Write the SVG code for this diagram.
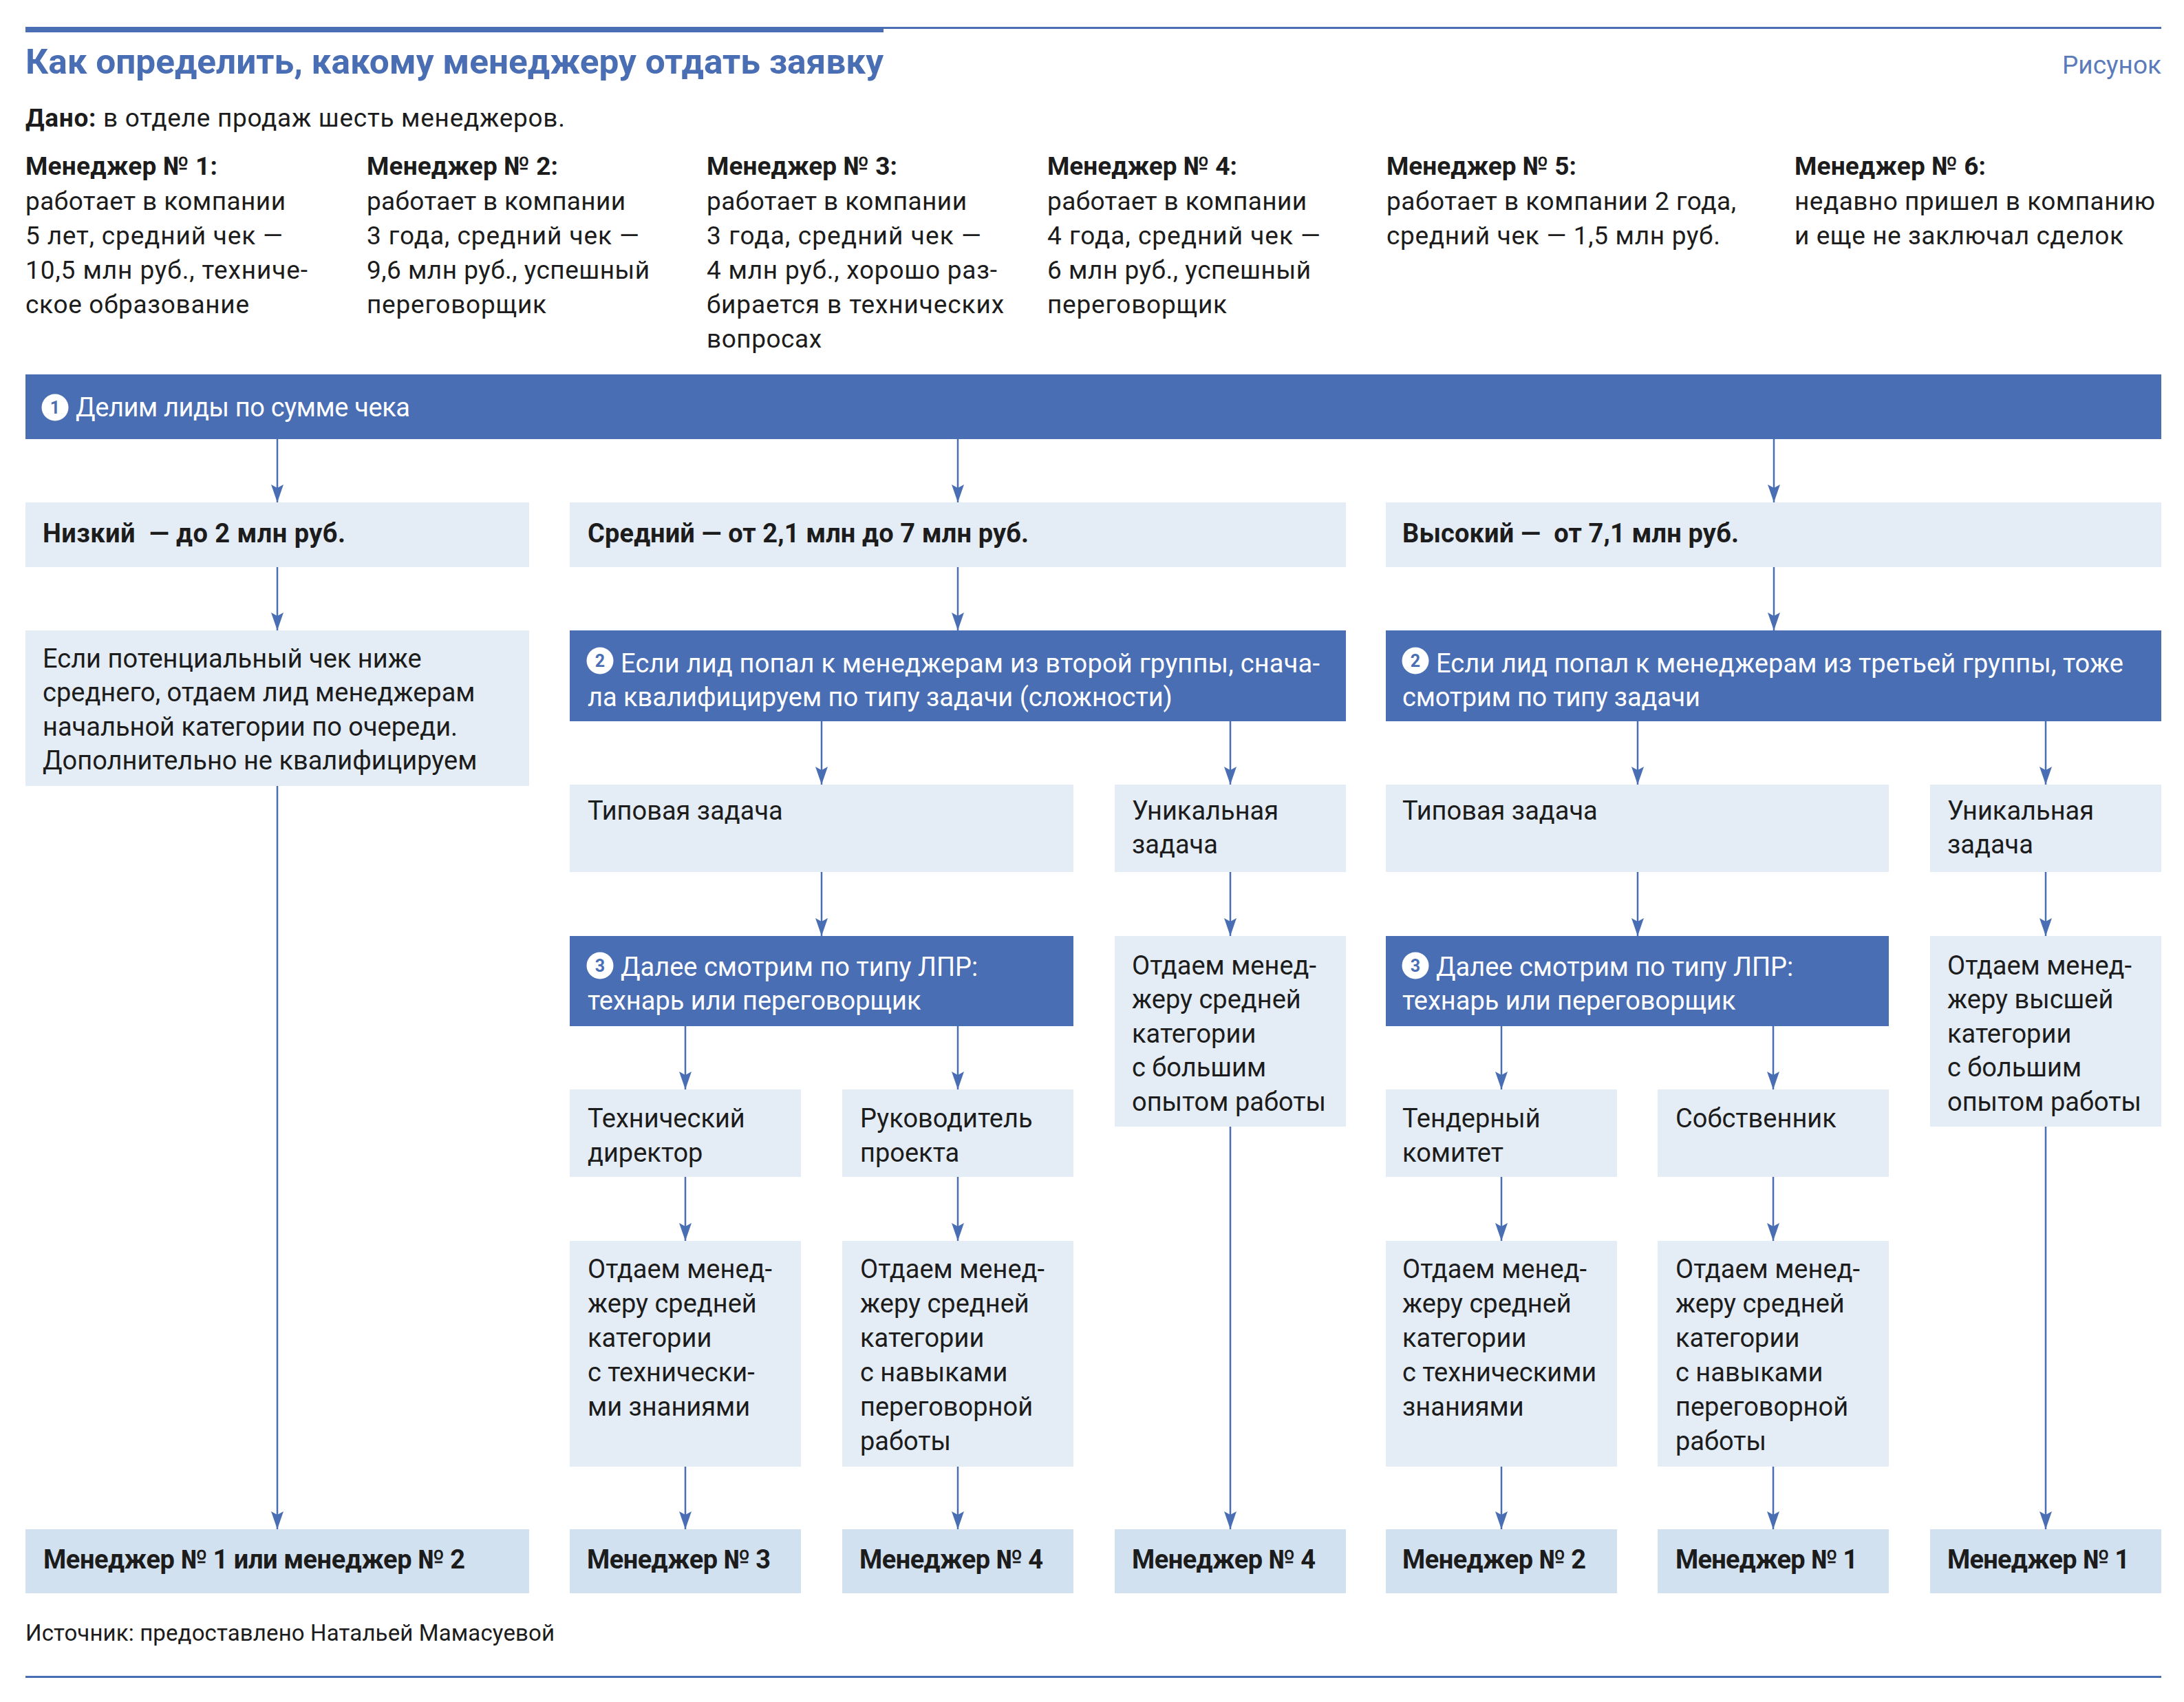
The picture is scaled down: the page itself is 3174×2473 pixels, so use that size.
<svg xmlns="http://www.w3.org/2000/svg" width="3174" height="2473" viewBox="0 0 3174 2473">
<style>
.t{font-family:Roboto,"Liberation Sans",sans-serif;font-size:38px;fill:#1c1c1c}
.h{font-size:37px}
.b{font-weight:700}
.w{fill:#ffffff}
.box{fill:#e4edf6}
.dark{fill:#4a6eb3}
.fin{fill:#d2e1f0}
.num{font-family:Roboto,"Liberation Sans",sans-serif;font-size:25px;font-weight:700;fill:#4a6eb3;text-anchor:middle}
.ln{stroke:#4a6eb3;stroke-width:2.5;fill:none;marker-end:url(#ah)}
</style>
<defs>
<marker id="ah" markerUnits="userSpaceOnUse" viewBox="-27 -10 28 20" refX="0" refY="0" markerWidth="28" markerHeight="20" orient="auto">
<path d="M0,0 L-26,-9 L-21,0 L-26,9 Z" fill="#4a6eb3"/>
</marker>
</defs>
<rect width="3174" height="2473" fill="#ffffff"/>

<g id="header">
<rect x="37" y="39" width="1247" height="8" fill="#4a6eb3"/>
<rect x="1284" y="39" width="1857" height="3" fill="#4a6eb3"/>
<text class="t b" x="37" y="107" style="font-size:50px;fill:#4a6eb3" textLength="1247" lengthAdjust="spacingAndGlyphs">Как определить, какому менеджеру отдать заявку</text>
<text class="t" x="3141" y="107" text-anchor="end" style="font-size:37px;fill:#5b7bbb">Рисунок</text>
<text class="t h" x="37" y="184" textLength="784"><tspan class="b">Дано:</tspan> в отделе продаж шесть менеджеров.</text>
</g>

<g id="manager1">
<text class="t h b" x="37" y="254" textLength="279">Менеджер № 1:</text>
<text class="t h" x="37" y="305" textLength="378">работает в компании</text>
<text class="t h" x="37" y="355" textLength="374">5 лет, средний чек —</text>
<text class="t h" x="37" y="405" textLength="410">10,5 млн руб., техниче-</text>
<text class="t h" x="37" y="455" textLength="325">ское образование</text>
</g>
<g id="manager2">
<text class="t h b" x="533" y="254" textLength="278">Менеджер № 2:</text>
<text class="t h" x="533" y="305" textLength="376">работает в компании</text>
<text class="t h" x="533" y="355" textLength="396">3 года, средний чек —</text>
<text class="t h" x="533" y="405" textLength="411">9,6 млн руб., успешный</text>
<text class="t h" x="533" y="455" textLength="261">переговорщик</text>
</g>
<g id="manager3">
<text class="t h b" x="1027" y="254" textLength="277">Менеджер № 3:</text>
<text class="t h" x="1027" y="305" textLength="378">работает в компании</text>
<text class="t h" x="1027" y="355" textLength="399">3 года, средний чек —</text>
<text class="t h" x="1027" y="405" textLength="422">4 млн руб., хорошо раз-</text>
<text class="t h" x="1027" y="455" textLength="432">бирается в технических</text>
<text class="t h" x="1027" y="505" textLength="167">вопросах</text>
</g>
<g id="manager4">
<text class="t h b" x="1522" y="254" textLength="276">Менеджер № 4:</text>
<text class="t h" x="1522" y="305" textLength="377">работает в компании</text>
<text class="t h" x="1522" y="355" textLength="397">4 года, средний чек —</text>
<text class="t h" x="1522" y="405" textLength="383">6 млн руб., успешный</text>
<text class="t h" x="1522" y="455" textLength="261">переговорщик</text>
</g>
<g id="manager5">
<text class="t h b" x="2015" y="254" textLength="276">Менеджер № 5:</text>
<text class="t h" x="2015" y="305" textLength="508">работает в компании 2 года,</text>
<text class="t h" x="2015" y="355" textLength="485">средний чек — 1,5 млн руб.</text>
</g>
<g id="manager6">
<text class="t h b" x="2608" y="254" textLength="278">Менеджер № 6:</text>
<text class="t h" x="2608" y="305" textLength="524">недавно пришел в компанию</text>
<text class="t h" x="2608" y="355" textLength="478">и еще не заключал сделок</text>
</g>

<g id="connectors">
<line class="ln" x1="403" y1="638" x2="403" y2="730"/>
<line class="ln" x1="1392" y1="638" x2="1392" y2="730"/>
<line class="ln" x1="2578" y1="638" x2="2578" y2="730"/>
<line class="ln" x1="403" y1="824" x2="403" y2="916"/>
<line class="ln" x1="403" y1="1142" x2="403" y2="2222"/>
<line class="ln" x1="1392" y1="824" x2="1392" y2="916"/>
<line class="ln" x1="2578" y1="824" x2="2578" y2="916"/>
<line class="ln" x1="1194" y1="1048" x2="1194" y2="1140"/>
<line class="ln" x1="1788" y1="1048" x2="1788" y2="1140"/>
<line class="ln" x1="2380" y1="1048" x2="2380" y2="1140"/>
<line class="ln" x1="2973" y1="1048" x2="2973" y2="1140"/>
<line class="ln" x1="1194" y1="1267" x2="1194" y2="1360"/>
<line class="ln" x1="2380" y1="1267" x2="2380" y2="1360"/>
<line class="ln" x1="1788" y1="1267" x2="1788" y2="1360"/>
<line class="ln" x1="2973" y1="1267" x2="2973" y2="1360"/>
<line class="ln" x1="996" y1="1491" x2="996" y2="1583"/>
<line class="ln" x1="1392" y1="1491" x2="1392" y2="1583"/>
<line class="ln" x1="2182" y1="1491" x2="2182" y2="1583"/>
<line class="ln" x1="2577" y1="1491" x2="2577" y2="1583"/>
<line class="ln" x1="996" y1="1710" x2="996" y2="1803"/>
<line class="ln" x1="1392" y1="1710" x2="1392" y2="1803"/>
<line class="ln" x1="2182" y1="1710" x2="2182" y2="1803"/>
<line class="ln" x1="2577" y1="1710" x2="2577" y2="1803"/>
<line class="ln" x1="996" y1="2131" x2="996" y2="2222"/>
<line class="ln" x1="1392" y1="2131" x2="1392" y2="2222"/>
<line class="ln" x1="2182" y1="2131" x2="2182" y2="2222"/>
<line class="ln" x1="2577" y1="2131" x2="2577" y2="2222"/>
<line class="ln" x1="1788" y1="1637" x2="1788" y2="2222"/>
<line class="ln" x1="2973" y1="1637" x2="2973" y2="2222"/>
</g>

<g id="step1">
<rect class="dark" x="37" y="544" width="3104" height="94"/>
<circle cx="80" cy="592" r="19.5" fill="#ffffff"/>
<text class="num" x="80" y="601">1</text>
<text class="t w" x="110" y="605" textLength="486">Делим лиды по сумме чека</text>
</g>

<g id="low">
<rect class="box" x="37" y="730" width="732" height="94"/>
<text class="t b" x="62" y="788" textLength="440">Низкий &#160;— до 2 млн руб.</text>
</g>
<g id="mid">
<rect class="box" x="828" y="730" width="1128" height="94"/>
<text class="t b" x="854" y="788" textLength="641">Средний — от 2,1 млн до 7 млн руб.</text>
</g>
<g id="high">
<rect class="box" x="2014" y="730" width="1127" height="94"/>
<text class="t b" x="2038" y="788" textLength="489">Высокий — &#160;от 7,1 млн руб.</text>
</g>

<g id="low-rule">
<rect class="box" x="37" y="916" width="732" height="226"/>
<text class="t" x="62" y="970">Если потенциальный чек ниже</text>
<text class="t" x="62" y="1019">среднего, отдаем лид менеджерам</text>
<text class="t" x="62" y="1069">начальной категории по очереди.</text>
<text class="t" x="62" y="1118">Дополнительно не квалифицируем</text>
</g>

<g id="mid-step2">
<rect class="dark" x="828" y="916" width="1128" height="132"/>
<circle cx="872" cy="960" r="19.5" fill="#ffffff"/>
<text class="num" x="872" y="969">2</text>
<text class="t w" x="902" y="977" textLength="1016">Если лид попал к менеджерам из второй группы, снача-</text>
<text class="t w" x="854" y="1026">ла квалифицируем по типу задачи (сложности)</text>
</g>
<g id="high-step2">
<rect class="dark" x="2014" y="916" width="1127" height="132"/>
<circle cx="2057" cy="960" r="19.5" fill="#ffffff"/>
<text class="num" x="2057" y="969">2</text>
<text class="t w" x="2087" y="977" textLength="999">Если лид попал к менеджерам из третьей группы, тоже</text>
<text class="t w" x="2038" y="1026" textLength="433">смотрим по типу задачи</text>
</g>

<g id="mid-typical">
<rect class="box" x="828" y="1140" width="732" height="127"/>
<text class="t" x="854" y="1191">Типовая задача</text>
</g>
<g id="mid-unique">
<rect class="box" x="1620" y="1140" width="336" height="127"/>
<text class="t" x="1645" y="1191">Уникальная</text>
<text class="t" x="1645" y="1240">задача</text>
</g>
<g id="high-typical">
<rect class="box" x="2014" y="1140" width="731" height="127"/>
<text class="t" x="2038" y="1191">Типовая задача</text>
</g>
<g id="high-unique">
<rect class="box" x="2805" y="1140" width="336" height="127"/>
<text class="t" x="2830" y="1191">Уникальная</text>
<text class="t" x="2830" y="1240">задача</text>
</g>

<g id="mid-step3">
<rect class="dark" x="828" y="1360" width="732" height="131"/>
<circle cx="872" cy="1403" r="19.5" fill="#ffffff"/>
<text class="num" x="872" y="1412">3</text>
<text class="t w" x="902" y="1418">Далее смотрим по типу ЛПР:</text>
<text class="t w" x="854" y="1467">технарь или переговорщик</text>
</g>
<g id="high-step3">
<rect class="dark" x="2014" y="1360" width="731" height="131"/>
<circle cx="2057" cy="1403" r="19.5" fill="#ffffff"/>
<text class="num" x="2057" y="1412">3</text>
<text class="t w" x="2087" y="1418">Далее смотрим по типу ЛПР:</text>
<text class="t w" x="2038" y="1467">технарь или переговорщик</text>
</g>

<g id="mid-unique-rule">
<rect class="box" x="1620" y="1360" width="336" height="277"/>
<text class="t" x="1645" y="1416">Отдаем менед-</text>
<text class="t" x="1645" y="1465">жеру средней</text>
<text class="t" x="1645" y="1515">категории</text>
<text class="t" x="1645" y="1564">с большим</text>
<text class="t" x="1645" y="1614">опытом работы</text>
</g>
<g id="high-unique-rule">
<rect class="box" x="2805" y="1360" width="336" height="277"/>
<text class="t" x="2830" y="1416">Отдаем менед-</text>
<text class="t" x="2830" y="1465">жеру высшей</text>
<text class="t" x="2830" y="1515">категории</text>
<text class="t" x="2830" y="1564">с большим</text>
<text class="t" x="2830" y="1614">опытом работы</text>
</g>

<g id="tech-director">
<rect class="box" x="828" y="1583" width="336" height="127"/>
<text class="t" x="854" y="1638">Технический</text>
<text class="t" x="854" y="1688">директор</text>
</g>
<g id="project-lead">
<rect class="box" x="1224" y="1583" width="336" height="127"/>
<text class="t" x="1250" y="1638">Руководитель</text>
<text class="t" x="1250" y="1688">проекта</text>
</g>
<g id="tender">
<rect class="box" x="2014" y="1583" width="336" height="127"/>
<text class="t" x="2038" y="1638">Тендерный</text>
<text class="t" x="2038" y="1688">комитет</text>
</g>
<g id="owner">
<rect class="box" x="2409" y="1583" width="336" height="127"/>
<text class="t" x="2435" y="1638">Собственник</text>
</g>

<g id="mid-tech-rule">
<rect class="box" x="828" y="1803" width="336" height="328"/>
<text class="t" x="854" y="1857">Отдаем менед-</text>
<text class="t" x="854" y="1907">жеру средней</text>
<text class="t" x="854" y="1957">категории</text>
<text class="t" x="854" y="2007">с технически-</text>
<text class="t" x="854" y="2057">ми знаниями</text>
</g>
<g id="mid-neg-rule">
<rect class="box" x="1224" y="1803" width="336" height="328"/>
<text class="t" x="1250" y="1857">Отдаем менед-</text>
<text class="t" x="1250" y="1907">жеру средней</text>
<text class="t" x="1250" y="1957">категории</text>
<text class="t" x="1250" y="2007">с навыками</text>
<text class="t" x="1250" y="2057">переговорной</text>
<text class="t" x="1250" y="2107">работы</text>
</g>
<g id="high-tech-rule">
<rect class="box" x="2014" y="1803" width="336" height="328"/>
<text class="t" x="2038" y="1857">Отдаем менед-</text>
<text class="t" x="2038" y="1907">жеру средней</text>
<text class="t" x="2038" y="1957">категории</text>
<text class="t" x="2038" y="2007">с техническими</text>
<text class="t" x="2038" y="2057">знаниями</text>
</g>
<g id="high-neg-rule">
<rect class="box" x="2409" y="1803" width="336" height="328"/>
<text class="t" x="2435" y="1857">Отдаем менед-</text>
<text class="t" x="2435" y="1907">жеру средней</text>
<text class="t" x="2435" y="1957">категории</text>
<text class="t" x="2435" y="2007">с навыками</text>
<text class="t" x="2435" y="2057">переговорной</text>
<text class="t" x="2435" y="2107">работы</text>
</g>

<g id="result-low">
<rect class="fin" x="37" y="2222" width="732" height="93"/>
<text class="t b" x="63" y="2279" textLength="613">Менеджер № 1 или менеджер № 2</text>
</g>
<g id="result-mid-tech">
<rect class="fin" x="828" y="2222" width="336" height="93"/>
<text class="t b" x="853" y="2279" textLength="267">Менеджер № 3</text>
</g>
<g id="result-mid-neg">
<rect class="fin" x="1224" y="2222" width="336" height="93"/>
<text class="t b" x="1249" y="2279" textLength="267">Менеджер № 4</text>
</g>
<g id="result-mid-unique">
<rect class="fin" x="1620" y="2222" width="336" height="93"/>
<text class="t b" x="1645" y="2279" textLength="267">Менеджер № 4</text>
</g>
<g id="result-high-tech">
<rect class="fin" x="2014" y="2222" width="336" height="93"/>
<text class="t b" x="2038" y="2279" textLength="267">Менеджер № 2</text>
</g>
<g id="result-high-neg">
<rect class="fin" x="2409" y="2222" width="336" height="93"/>
<text class="t b" x="2435" y="2279" textLength="265">Менеджер № 1</text>
</g>
<g id="result-high-unique">
<rect class="fin" x="2805" y="2222" width="336" height="93"/>
<text class="t b" x="2830" y="2279" textLength="265">Менеджер № 1</text>
</g>

<g id="footer">
<text class="t" x="37" y="2384" style="font-size:33px" textLength="769">Источник: предоставлено Натальей Мамасуевой</text>
<rect x="37" y="2435" width="3104" height="3" fill="#4a6eb3"/>
</g>
</svg>
